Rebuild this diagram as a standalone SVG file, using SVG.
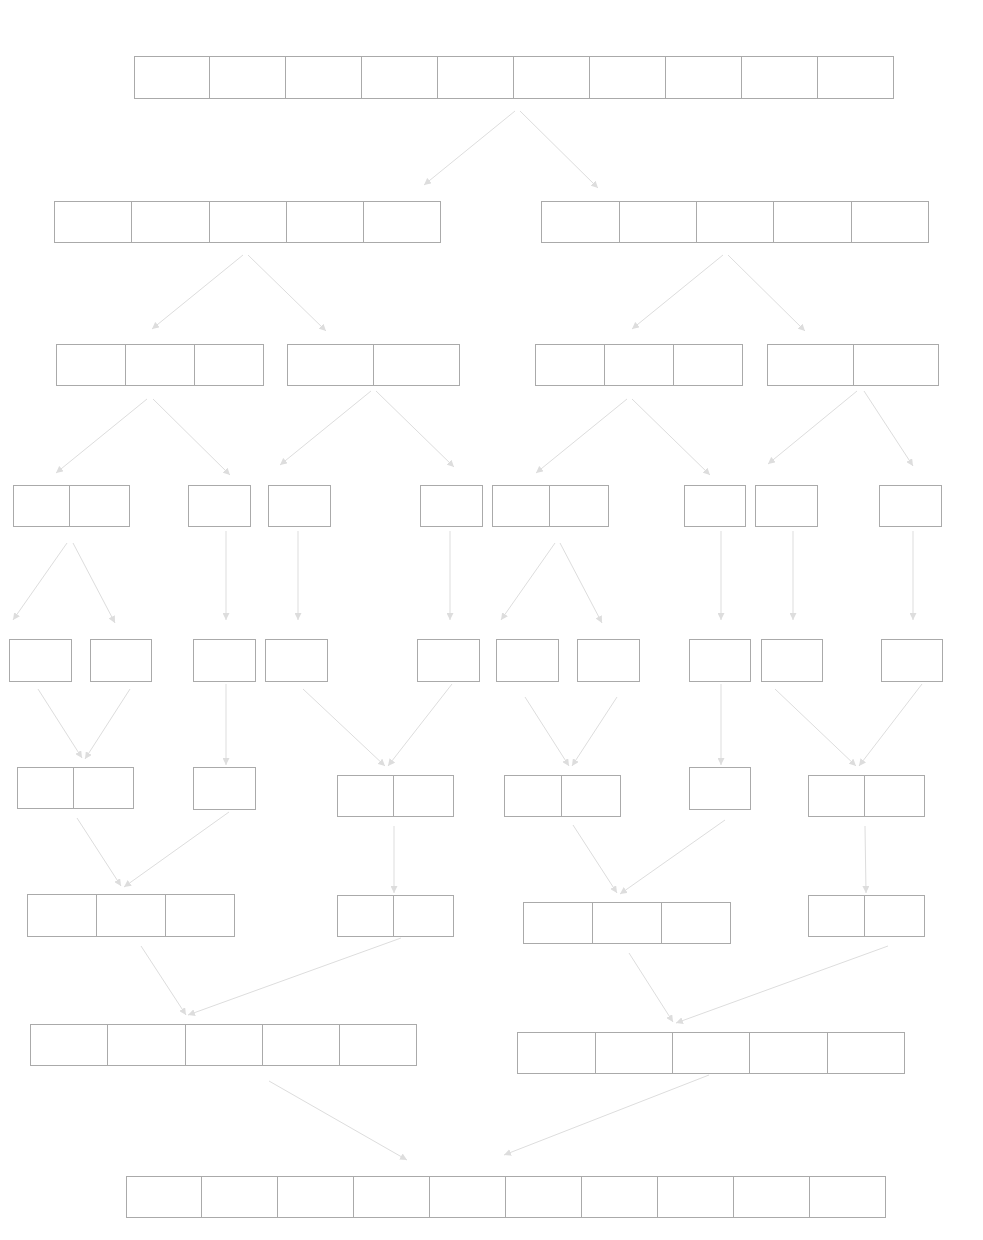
<svg xmlns="http://www.w3.org/2000/svg" width="983" height="1240" viewBox="0 0 983 1240">
<style>
.n rect{fill:#fff;stroke:#aaa;stroke-width:1}
.n path{fill:none;stroke:#aaa;stroke-width:1}
#edges line{stroke:#ddd;stroke-width:1;marker-end:url(#ah)}
</style>
<defs>
<marker id="ah" viewBox="0 0 10 10" refX="10" refY="5" markerWidth="7" markerHeight="7" markerUnits="userSpaceOnUse" orient="auto">
<path d="M0,0 L10,5 L0,10 z" fill="#ddd"/>
</marker>
</defs>
<rect width="983" height="1240" fill="#fff"/>
<g transform="translate(0.5,0.5)">
<g id="n1" class="n"><rect x="134" y="56" width="759" height="42"/><path d="M209,56v42M285,56v42M361,56v42M437,56v42M513,56v42M589,56v42M665,56v42M741,56v42M817,56v42"/></g>
<g id="n2a" class="n"><rect x="54" y="201" width="386" height="41"/><path d="M131,201v41M209,201v41M286,201v41M363,201v41"/></g>
<g id="n2b" class="n"><rect x="541" y="201" width="387" height="41"/><path d="M619,201v41M696,201v41M773,201v41M851,201v41"/></g>
<g id="n3a" class="n"><rect x="56" y="344" width="207" height="41"/><path d="M125,344v41M194,344v41"/></g>
<g id="n3b" class="n"><rect x="287" y="344" width="172" height="41"/><path d="M373,344v41"/></g>
<g id="n3c" class="n"><rect x="535" y="344" width="207" height="41"/><path d="M604,344v41M673,344v41"/></g>
<g id="n3d" class="n"><rect x="767" y="344" width="171" height="41"/><path d="M853,344v41"/></g>
<g id="n4a" class="n"><rect x="13" y="485" width="116" height="41"/><path d="M69,485v41"/></g>
<g id="n4b" class="n"><rect x="188" y="485" width="62" height="41"/></g>
<g id="n4c" class="n"><rect x="268" y="485" width="62" height="41"/></g>
<g id="n4d" class="n"><rect x="420" y="485" width="62" height="41"/></g>
<g id="n4e" class="n"><rect x="492" y="485" width="116" height="41"/><path d="M549,485v41"/></g>
<g id="n4f" class="n"><rect x="684" y="485" width="61" height="41"/></g>
<g id="n4g" class="n"><rect x="755" y="485" width="62" height="41"/></g>
<g id="n4h" class="n"><rect x="879" y="485" width="62" height="41"/></g>
<g id="n5a" class="n"><rect x="9" y="639" width="62" height="42"/></g>
<g id="n5b" class="n"><rect x="90" y="639" width="61" height="42"/></g>
<g id="n5c" class="n"><rect x="193" y="639" width="62" height="42"/></g>
<g id="n5d" class="n"><rect x="265" y="639" width="62" height="42"/></g>
<g id="n5e" class="n"><rect x="417" y="639" width="62" height="42"/></g>
<g id="n5f" class="n"><rect x="496" y="639" width="62" height="42"/></g>
<g id="n5g" class="n"><rect x="577" y="639" width="62" height="42"/></g>
<g id="n5h" class="n"><rect x="689" y="639" width="61" height="42"/></g>
<g id="n5i" class="n"><rect x="761" y="639" width="61" height="42"/></g>
<g id="n5j" class="n"><rect x="881" y="639" width="61" height="42"/></g>
<g id="n6a" class="n"><rect x="17" y="767" width="116" height="41"/><path d="M73,767v41"/></g>
<g id="n6b" class="n"><rect x="193" y="767" width="62" height="42"/></g>
<g id="n6c" class="n"><rect x="337" y="775" width="116" height="41"/><path d="M393,775v41"/></g>
<g id="n6d" class="n"><rect x="504" y="775" width="116" height="41"/><path d="M561,775v41"/></g>
<g id="n6e" class="n"><rect x="689" y="767" width="61" height="42"/></g>
<g id="n6f" class="n"><rect x="808" y="775" width="116" height="41"/><path d="M864,775v41"/></g>
<g id="n7a" class="n"><rect x="27" y="894" width="207" height="42"/><path d="M96,894v42M165,894v42"/></g>
<g id="n7b" class="n"><rect x="337" y="895" width="116" height="41"/><path d="M393,895v41"/></g>
<g id="n7c" class="n"><rect x="523" y="902" width="207" height="41"/><path d="M592,902v41M661,902v41"/></g>
<g id="n7d" class="n"><rect x="808" y="895" width="116" height="41"/><path d="M864,895v41"/></g>
<g id="n8a" class="n"><rect x="30" y="1024" width="386" height="41"/><path d="M107,1024v41M185,1024v41M262,1024v41M339,1024v41"/></g>
<g id="n8b" class="n"><rect x="517" y="1032" width="387" height="41"/><path d="M595,1032v41M672,1032v41M749,1032v41M827,1032v41"/></g>
<g id="n9" class="n"><rect x="126" y="1176" width="759" height="41"/><path d="M201,1176v41M277,1176v41M353,1176v41M429,1176v41M505,1176v41M581,1176v41M657,1176v41M733,1176v41M809,1176v41"/></g>
</g>
<g id="edges">
<line x1="515" y1="111" x2="424" y2="185"/>
<line x1="520" y1="111" x2="598" y2="188"/>
<line x1="243" y1="255" x2="152" y2="329"/>
<line x1="248" y1="255" x2="326" y2="331"/>
<line x1="723" y1="255" x2="632" y2="329"/>
<line x1="728" y1="255" x2="805" y2="331"/>
<line x1="147" y1="399" x2="56" y2="473"/>
<line x1="153" y1="399" x2="230" y2="475"/>
<line x1="371" y1="391" x2="280" y2="465"/>
<line x1="376" y1="391" x2="454" y2="467"/>
<line x1="627" y1="399" x2="536" y2="473"/>
<line x1="632" y1="399" x2="710" y2="475"/>
<line x1="857" y1="391" x2="768" y2="464"/>
<line x1="864" y1="391" x2="913" y2="466"/>
<line x1="67" y1="543" x2="13" y2="620"/>
<line x1="73" y1="543" x2="115" y2="623"/>
<line x1="226" y1="531" x2="226" y2="620"/>
<line x1="298" y1="531" x2="298" y2="620"/>
<line x1="450" y1="531" x2="450" y2="620"/>
<line x1="555" y1="543" x2="501" y2="620"/>
<line x1="560" y1="543" x2="602" y2="623"/>
<line x1="721" y1="531" x2="721" y2="620"/>
<line x1="793" y1="531" x2="793" y2="620"/>
<line x1="913" y1="531" x2="913" y2="620"/>
<line x1="38" y1="689" x2="82" y2="758"/>
<line x1="130" y1="689" x2="85" y2="759"/>
<line x1="226" y1="684" x2="226" y2="765"/>
<line x1="303" y1="689" x2="385" y2="766"/>
<line x1="452" y1="684" x2="388" y2="766"/>
<line x1="525" y1="697" x2="569" y2="766"/>
<line x1="617" y1="697" x2="572" y2="766"/>
<line x1="721" y1="684" x2="721" y2="765"/>
<line x1="775" y1="689" x2="856" y2="766"/>
<line x1="922" y1="684" x2="859" y2="766"/>
<line x1="77" y1="818" x2="121" y2="886"/>
<line x1="229" y1="812" x2="124" y2="887"/>
<line x1="394" y1="826" x2="394" y2="893"/>
<line x1="573" y1="825" x2="617" y2="893"/>
<line x1="725" y1="820" x2="620" y2="894"/>
<line x1="865" y1="826" x2="866" y2="893"/>
<line x1="141" y1="946" x2="186" y2="1015"/>
<line x1="401" y1="938" x2="188" y2="1015"/>
<line x1="629" y1="953" x2="673" y2="1022"/>
<line x1="888" y1="946" x2="676" y2="1023"/>
<line x1="269" y1="1081" x2="407" y2="1160"/>
<line x1="709" y1="1075" x2="504" y2="1155"/>
</g>
</svg>
